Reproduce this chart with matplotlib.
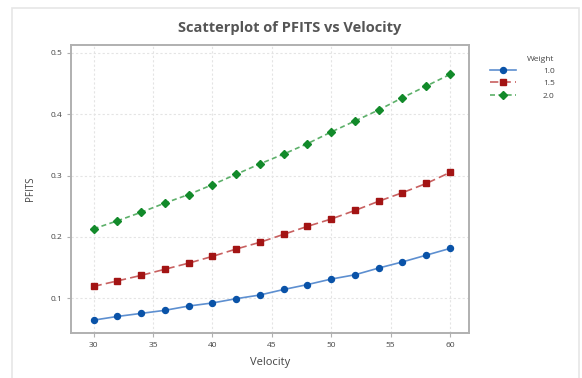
import matplotlib
matplotlib.use("Agg")
import matplotlib.pyplot as plt
from matplotlib.patches import Rectangle

velocity = [30, 32, 34, 36, 38, 40, 42, 44, 46, 48, 50, 52, 54, 56, 58, 60]
pfits_w10 = [0.064, 0.070, 0.075, 0.080, 0.087, 0.092, 0.099, 0.105, 0.114, 0.122,
             0.131, 0.138, 0.149, 0.159, 0.170, 0.181]
pfits_w15 = [0.119, 0.128, 0.137, 0.147, 0.157, 0.168, 0.180, 0.191, 0.204, 0.217,
             0.229, 0.243, 0.258, 0.272, 0.287, 0.305]
pfits_w20 = [0.213, 0.226, 0.240, 0.255, 0.269, 0.285, 0.302, 0.319, 0.335, 0.352,
             0.371, 0.389, 0.407, 0.427, 0.446, 0.465]
weights = ["1.0", "1.5", "2.0"]
x_ticks = [30, 35, 40, 45, 50, 55, 60]
y_ticks = [0.1, 0.2, 0.3, 0.4, 0.5]

plt.rcParams['font.family'] = ['Open Sans', 'DejaVu Sans']

W, H = 582, 378
fig = plt.figure(figsize=(W / 100, H / 100), dpi=100)
fig.patch.set_facecolor('white')

# outer frame
fig.patches.append(Rectangle((12 / W, -0.05), (579 - 12) / W, 1.05 - 8 / H,
                             transform=fig.transFigure, fill=False,
                             edgecolor='#e6e6e6', linewidth=1.2))

ax = fig.add_axes([71 / W, 1 - 333 / H, (469 - 71) / W, (333 - 45) / H])

colors = ['#0a53a8', '#a31414', '#128a2a']
line_colors = ['#5d8fd0', '#c86060', '#5db06a']
series = [pfits_w10, pfits_w15, pfits_w20]
markers = ['o', 's', 'D']
msizes = [4.3, 4.3, 4.0]
styles = ['-', (0, (5, 2.5)), (0, (3, 2))]

handles = []
for vals, c, lc, m, ms, ls, lab in zip(series, colors, line_colors, markers, msizes, styles, weights):
    ax.plot(velocity, vals, color=lc, linestyle=ls, linewidth=1.2, zorder=2)
    ax.plot(velocity, vals, linestyle='none', marker=m, markersize=ms,
            color=c, markeredgecolor=c, zorder=3)
    h, = ax.plot([], [], color=lc, linestyle=ls, linewidth=1.2, marker=m,
                 markersize=ms, markerfacecolor=c, markeredgecolor=c, label=lab)
    handles.append(h)

ax.set_xlim(28.1, 61.6)
ax.set_ylim(0.043, 0.513)
ax.set_xticks(x_ticks)
ax.set_yticks(y_ticks)
ax.set_xticklabels([str(t) for t in x_ticks])
ax.set_yticklabels([f"{t:.1f}" for t in y_ticks])
ax.grid(True, color='#e4e4e4', linestyle=(0, (2, 2)), linewidth=0.8)
ax.set_axisbelow(True)
for s in ax.spines.values():
    s.set_color('#b0b0b0')
    s.set_linewidth(1.4)
ax.tick_params(axis='both', colors='#b0b0b0', labelcolor='#444444',
               labelsize=6, length=3, width=0.8)

ax.set_xlabel('Velocity', fontsize=8, color='#444444', labelpad=6)
ax.set_ylabel('PFITS', fontsize=7, color='#444444', labelpad=10)
fig.text(290 / W, 1 - 28 / H, 'Scatterplot of PFITS vs Velocity',
         ha='center', va='center', fontsize=10.5, fontweight='bold', color='#555555')

leg = fig.legend(handles=handles, labels=weights, title='Weight',
                 loc='upper left', bbox_to_anchor=(482 / W, 1 - 48 / H),
                 frameon=False, fontsize=6, title_fontsize=6,
                 handlelength=3.2, handletextpad=3.2, labelspacing=0.55,
                 alignment='right', labelcolor='#444444')
leg.get_title().set_color('#444444')

fig.savefig('out.png', dpi=100, facecolor='white')
